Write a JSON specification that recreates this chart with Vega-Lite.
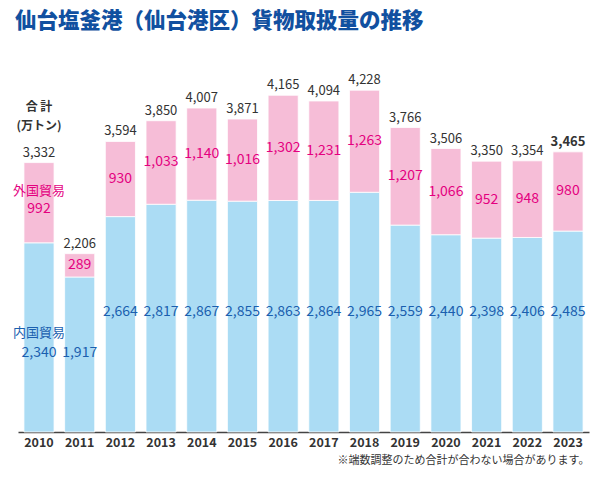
{
  "$schema": "https://vega.github.io/schema/vega-lite/v6.json",
  "autosize": {"type": "none"},
  "padding": {"left": 18, "top": 52, "right": 11, "bottom": 47},
  "width": 571,
  "height": 380,
  "background": "white",
  "title": {
    "text": "仙台塩釜港（仙台港区）貨物取扱量の推移",
    "anchor": "start",
    "frame": "group",
    "font": "Noto Sans CJK JP",
    "fontSize": 21.5,
    "fontWeight": 900,
    "color": "#1150a0",
    "dx": -3,
    "offset": 20
  },
  "config": {
    "view": {"stroke": null},
    "font": "Noto Sans CJK JP",
    "text": {"font": "Noto Sans CJK JP"}
  },
  "data": {
    "values": [
      {"year": "2010", "dom": 2340, "foreign": 992, "total": 3332},
      {"year": "2011", "dom": 1917, "foreign": 289, "total": 2206},
      {"year": "2012", "dom": 2664, "foreign": 930, "total": 3594},
      {"year": "2013", "dom": 2817, "foreign": 1033, "total": 3850},
      {"year": "2014", "dom": 2867, "foreign": 1140, "total": 4007},
      {"year": "2015", "dom": 2855, "foreign": 1016, "total": 3871},
      {"year": "2016", "dom": 2863, "foreign": 1302, "total": 4165},
      {"year": "2017", "dom": 2864, "foreign": 1231, "total": 4094},
      {"year": "2018", "dom": 2965, "foreign": 1263, "total": 4228},
      {"year": "2019", "dom": 2559, "foreign": 1207, "total": 3766},
      {"year": "2020", "dom": 2440, "foreign": 1066, "total": 3506},
      {"year": "2021", "dom": 2398, "foreign": 952, "total": 3350},
      {"year": "2022", "dom": 2406, "foreign": 948, "total": 3354},
      {"year": "2023", "dom": 2485, "foreign": 980, "total": 3465}
    ]
  },
  "encoding": {
    "x": {
      "field": "year",
      "type": "nominal",
      "sort": null,
      "scale": {"paddingInner": 0.26, "paddingOuter": 0.146},
      "axis": {
        "title": "※端数調整のため合計が合わない場合があります。",
        "titleAnchor": "end",
        "titleFontSize": 11,
        "titleFontWeight": "normal",
        "titleColor": "#333333",
        "titlePadding": 6,
        "labelAngle": 0,
        "labelFontSize": 12.5,
        "labelFontWeight": "bold",
        "labelColor": "#333333",
        "labelPadding": 4,
        "ticks": false,
        "domainColor": "#444444",
        "domainWidth": 1.5,
        "zindex": 0
      }
    }
  },
  "layer": [
    {
      "mark": {"type": "bar", "color": "#abdcf4", "stroke": "white", "strokeWidth": 0.8},
      "encoding": {
        "y": {"field": "dom", "type": "quantitative", "scale": {"domain": [0, 4700], "nice": false, "zero": true}, "axis": null}
      }
    },
    {
      "mark": {"type": "bar", "color": "#f6bdd7", "stroke": "white", "strokeWidth": 0.8},
      "encoding": {
        "y": {"field": "dom", "type": "quantitative"},
        "y2": {"field": "total"}
      }
    },
    {
      "transform": [{"filter": "datum.year != '2023'"}],
      "mark": {"type": "text", "baseline": "bottom", "dy": -3, "fontSize": 13, "color": "#333333"},
      "encoding": {
        "y": {"field": "total", "type": "quantitative"},
        "text": {"field": "total", "type": "quantitative", "format": ","}
      }
    },
    {
      "transform": [{"filter": "datum.year == '2023'"}],
      "mark": {"type": "text", "baseline": "bottom", "dy": -3, "fontSize": 13, "fontWeight": "bold", "color": "#333333"},
      "encoding": {
        "y": {"field": "total", "type": "quantitative"},
        "text": {"field": "total", "type": "quantitative", "format": ","}
      }
    },
    {
      "transform": [
        {"filter": "datum.year != '2010'"},
        {"fold": ["dom", "total"], "as": ["edge", "val"]}
      ],
      "mark": {"type": "text", "baseline": "middle", "fontSize": 14, "color": "#e4007f"},
      "encoding": {
        "y": {"aggregate": "mean", "field": "val", "type": "quantitative"},
        "text": {"aggregate": "max", "field": "foreign", "type": "quantitative", "format": ","}
      }
    },
    {
      "transform": [
        {"filter": "datum.year == '2010'"},
        {"fold": ["dom", "total"], "as": ["edge", "val"]}
      ],
      "mark": {"type": "text", "baseline": "middle", "dy": 6, "fontSize": 14, "color": "#e4007f"},
      "encoding": {
        "y": {"aggregate": "mean", "field": "val", "type": "quantitative"},
        "text": {"aggregate": "max", "field": "foreign", "type": "quantitative", "format": ","}
      }
    },
    {
      "transform": [
        {"filter": "datum.year == '2010'"},
        {"fold": ["dom", "total"], "as": ["edge", "val"]}
      ],
      "mark": {"type": "text", "baseline": "middle", "dy": -12, "fontSize": 13, "color": "#e4007f", "text": "外国貿易"},
      "encoding": {
        "y": {"aggregate": "mean", "field": "val", "type": "quantitative"}
      }
    },
    {
      "transform": [{"filter": "datum.year != '2010' && datum.year != '2011'"}],
      "mark": {"type": "text", "baseline": "middle", "fontSize": 14, "color": "#1a5faf"},
      "encoding": {
        "y": {"datum": 1480, "type": "quantitative"},
        "text": {"field": "dom", "type": "quantitative", "format": ","}
      }
    },
    {
      "transform": [{"filter": "datum.year == '2010' || datum.year == '2011'"}],
      "mark": {"type": "text", "baseline": "middle", "fontSize": 14, "color": "#1a5faf"},
      "encoding": {
        "y": {"datum": 977, "type": "quantitative"},
        "text": {"field": "dom", "type": "quantitative", "format": ","}
      }
    },
    {
      "transform": [{"filter": "datum.year == '2010'"}],
      "mark": {"type": "text", "baseline": "middle", "fontSize": 13, "color": "#1a5faf", "text": "内国貿易"},
      "encoding": {
        "y": {"datum": 1224, "type": "quantitative"}
      }
    },
    {
      "transform": [{"filter": "datum.year == '2010'"}],
      "mark": {"type": "text", "baseline": "middle", "fontSize": 12, "fontWeight": "bold", "color": "#333333", "text": "合 計"},
      "encoding": {
        "y": {"datum": 4015, "type": "quantitative"}
      }
    },
    {
      "transform": [{"filter": "datum.year == '2010'"}],
      "mark": {"type": "text", "baseline": "middle", "fontSize": 12, "fontWeight": "bold", "color": "#333333", "text": "(万トン)"},
      "encoding": {
        "y": {"datum": 3790, "type": "quantitative"}
      }
    }
  ]
}
